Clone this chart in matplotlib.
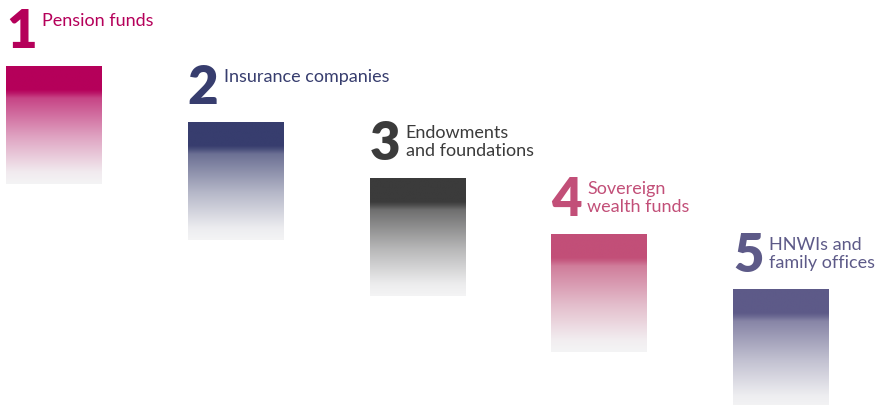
import numpy as np
import matplotlib.pyplot as plt
from matplotlib.colors import to_rgb

ranks = [1, 2, 3, 4, 5]
labels = ["Pension funds", "Insurance companies", "Endowments\nand foundations",
          "Sovereign\nwealth funds", "HNWIs and\nfamily offices"]
colors = ["#b5005a", "#373d6e", "#3b3b3b", "#c24f78", "#5d5a88"]

fig = plt.figure(figsize=(8.78, 4.05), dpi=100)
ax = fig.add_axes([0, 0, 1, 1])

bar_w = 0.528
bar_h = 2.107
n = 256
t = np.linspace(0, 1, n)
# opacity profile: solid top, short soft drop, then long linear fade
w = np.interp(t, [0, 0.2, 0.23, 0.27, 0.6, 0.9, 1.0],
              [1, 1, 0.9, 0.72, 0.33, 0.04, 0.0])
end = np.array(to_rgb('#f4f4f5'))

for r, lab, c in zip(ranks, labels, colors):
    rgb = np.array(to_rgb(c))
    img = w[:, None] * rgb + (1 - w[:, None]) * end
    img = np.repeat(img[:, None, :], 2, axis=1)
    ax.imshow(img, extent=(r - bar_w / 2, r + bar_w / 2, r + bar_h, r),
              aspect='auto', interpolation='bilinear', origin='upper')
    ax.annotate(str(r), xy=(r - bar_w / 2, r), xytext=(0, 18), textcoords='offset pixels',
                ha='left', va='baseline', fontsize=38, fontweight='heavy', family='Lato',
                color=c)
    ax.annotate(lab, xy=(r - bar_w / 2, r), xytext=(36, 53), textcoords='offset pixels',
                ha='left', va='top', fontsize=13, family='Lato', color=c,
                linespacing=1.12)

ax.set_xlim(0.7029, 5.5337)
ax.set_ylim(7.0536, -0.1786)
ax.axis('off')
fig.savefig('out.png', dpi=100)
